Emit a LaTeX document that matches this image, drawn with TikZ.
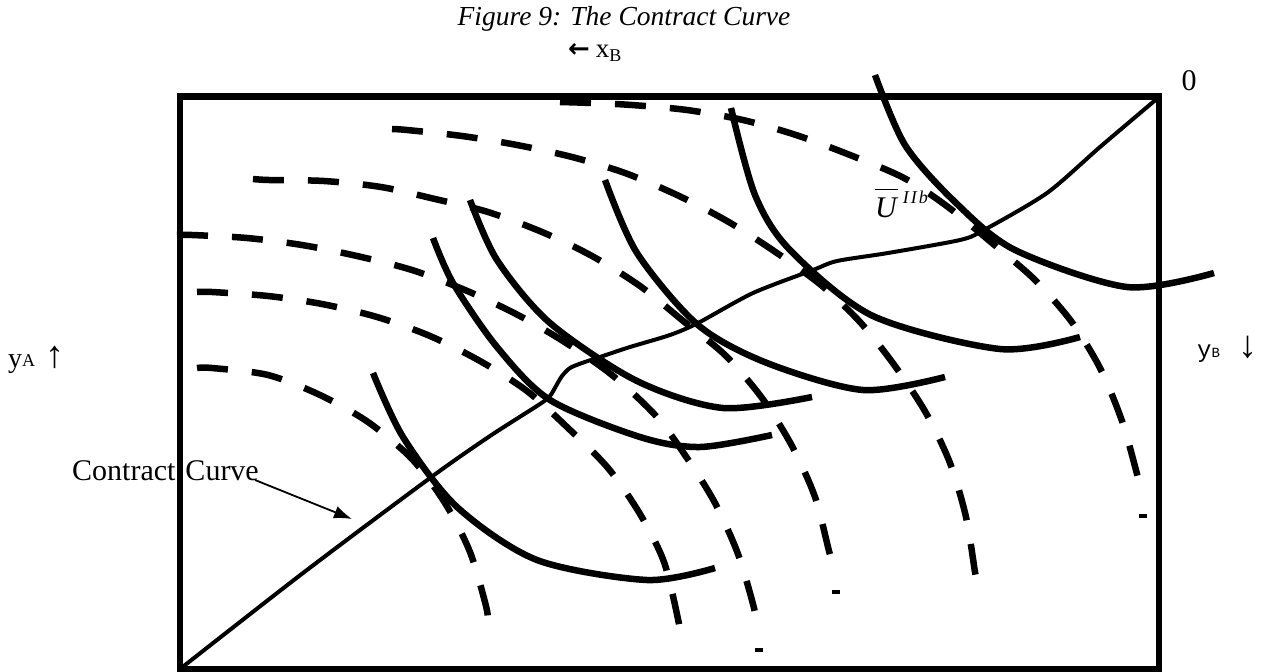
\documentclass[tikz,border=0pt]{standalone}
\usepackage{fontspec}
\setmainfont{Liberation Serif}
\newfontfamily\monofnt{Liberation Mono}
\newfontfamily\dejavu{DejaVu Sans}
\usetikzlibrary{arrows.meta}
\begin{document}
\begin{tikzpicture}[x=1pt,y=-1pt,
  frame/.style={line width=6.5pt},
  icdash/.style={line width=6.5pt, dash pattern=on 31pt off 24pt},
  icsolid/.style={line width=6.5pt},
  ccurve/.style={line width=4pt},
  tickmark/.style={line width=3.5pt},
  lbl/.style={inner sep=0pt, font=\fontsize{27}{27}\selectfont},
  pointer/.style={line width=1.8pt, -{Latex[length=18pt,width=13pt]}},
]
\useasboundingbox (0,0) rectangle (1270,672);

% dashed indifference curves
\draw[icdash] plot[smooth] coordinates {(560,102) (592,103) (632,105) (687,110) (743,120) (796,135) (850,155) (904,178) (948,207) (998,248) (1035,280) (1071,321) (1100,368) (1122,421) (1137,474) (1141,492)};
\draw[icdash] plot[smooth] coordinates {(392,129) (407,130) (462,136) (517,145) (572,157) (625,173) (677,195) (727,221) (774,251) (821,285) (860,322) (895,366) (926,413) (950,463) (966,517) (975,572) (978,588)};
\draw[icdash] plot[smooth] coordinates {(253,179) (269,180) (324,181) (381,187) (435,199) (488,212) (542,232) (592,256) (640,286) (682,320) (725,355) (762,398) (792,446) (815,497) (829,551) (834,568)};
\draw[icdash] plot[smooth] coordinates {(177,235) (192,235) (247,238) (302,245) (357,256) (412,270) (465,290) (516,314) (563,341) (612,375) (656,416) (687,458) (715,503) (738,554) (754,608) (756,625)};
\draw[icdash] plot[smooth] coordinates {(197,292) (212,292) (268,296) (322,304) (377,317) (430,336) (480,361) (527,391) (568,428) (608,468) (640,514) (664,562) (678,619) (680,635)};
\draw[icdash] plot[smooth] coordinates {(197,368) (212,368) (268,375) (320,395) (368,422) (412,459) (445,503) (470,552) (486,606) (488,622)};
\draw[tickmark] (1139,516) -- (1147,516);
\draw[tickmark] (832,592) -- (840,592);
\draw[tickmark] (755,650) -- (763,650);

% solid indifference curves
\draw[icsolid] plot[smooth] coordinates {(373,373) (403,437) (457,507) (537,560) (647,580) (715,568)};
\draw[icsolid] plot[smooth] coordinates {(433,238) (453,283) (497,347) (550,400) (640,437) (700,447) (772,435)};
\draw[icsolid] plot[smooth] coordinates {(470,200) (497,260) (550,323) (637,381) (723,408) (812,397)};
\draw[icsolid] plot[smooth] coordinates {(605,180) (637,253) (698,325) (767,363) (863,390) (945,377)};
\draw[icsolid] plot[smooth] coordinates {(731,108) (755,195) (790,250) (873,316) (1000,349) (1080,337)};
\draw[icsolid] plot[smooth] coordinates {(875,75) (905,145) (955,202) (1015,250) (1127,287) (1214,273)};

% contract curve
\draw[ccurve] plot[smooth, tension=0.45] coordinates {(180,669) (303,573) (430,478) (490,436) (540,404) (550,396) (556,386) (562,376) (570,368) (582,363) (600,357) (630,347) (670,335) (698,323) (753,293) (813,270) (837,261) (888,253) (960,240) (984,230) (1047,193) (1100,147) (1159,97)};

% box
\draw[frame] (180,96.5) rectangle (1159,669);

% labels
\node[lbl, anchor=base, font=\fontsize{27.5}{27.5}\selectfont\itshape] (title) at (624,25) {Figure 9: The Contract Curve};
\node[lbl, anchor=base west] (xb) at (568,57) {{\dejavu\bfseries\fontsize{26}{26}\selectfont ←}\hspace{6pt}x\raisebox{-4pt}{\fontsize{18}{18}\selectfont B}};
\node[lbl, anchor=base] (origin) at (1189,90) {\fontsize{30}{30}\selectfont 0};
\node[lbl, anchor=base west] (ya) at (8,367) {\fontsize{28}{28}\selectfont y\raisebox{1pt}{\fontsize{18}{18}\selectfont A}\hspace{10pt}{\fontsize{38}{38}\selectfont ↑}};
\node[lbl, anchor=base west] (yb) at (1197,357) {{\monofnt\fontsize{24}{24}\selectfont y}{\monofnt\fontsize{14}{14}\selectfont B}\hspace{18pt}{\fontsize{38}{38}\selectfont ↓}};
\node[lbl, anchor=base west, font=\fontsize{30}{30}\selectfont] (ubar) at (875,217) {$\overline{\hbox{\raisebox{0pt}[26pt][0pt]{\itshape U\kern1pt}}}$\kern5pt\raisebox{14pt}{\fontsize{18}{18}\selectfont\itshape I\kern2pt I\kern2pt b}};
\node[lbl, anchor=base east, font=\fontsize{30}{30}\selectfont] (cclabel) at (259,480) {Contract\hspace{10pt}Curve};
\coordinate (cctip) at (352,519);
\draw[pointer] ([xshift=-4pt]cclabel.base east) -- (cctip);
\end{tikzpicture}
\end{document}
